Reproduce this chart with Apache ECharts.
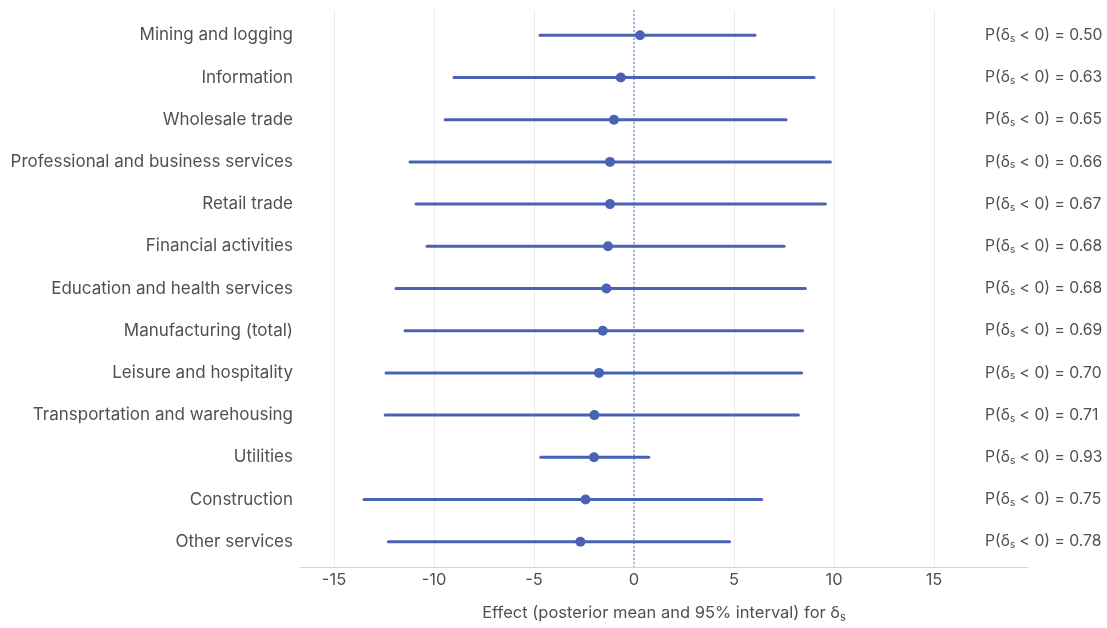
<!DOCTYPE html>
<html>
<head>
<meta charset="utf-8">
<script src="https://cdn.jsdelivr.net/npm/echarts@6/dist/echarts.min.js"></script>
<style>
  html, body { margin: 0; padding: 0; background: #fff; }
  #chart { width: 1107px; height: 628px; }
</style>
</head>
<body>
<div id="chart"></div>
<script>
// Sectors, top to bottom
const sectors = [
  'Mining and logging',
  'Information',
  'Wholesale trade',
  'Professional and business services',
  'Retail trade',
  'Financial activities',
  'Education and health services',
  'Manufacturing (total)',
  'Leisure and hospitality',
  'Transportation and warehousing',
  'Utilities',
  'Construction',
  'Other services'
];
// Posterior mean and 95% interval bounds
const means = [0.3, -0.66, -1.0, -1.2, -1.2, -1.3, -1.38, -1.56, -1.75, -1.98, -2.0, -2.42, -2.68];
const lower = [-4.7, -9.0, -9.45, -11.2, -10.9, -10.35, -11.9, -11.45, -12.4, -12.44, -4.66, -13.5, -12.28];
const upper = [6.05, 9.0, 7.6, 9.82, 9.57, 7.5, 8.57, 8.43, 8.38, 8.22, 0.74, 6.38, 4.78];
// Posterior probability of a negative effect
const probNeg = ['0.50', '0.63', '0.65', '0.66', '0.67', '0.68', '0.68', '0.69', '0.70', '0.71', '0.93', '0.75', '0.78'];
// X tick labels shown
const xTicks = [-15, -10, -5, 0, 5, 10, 15];

const FONT = 'Inter, "Noto Sans", sans-serif';
const BLUE = '#4a62b4';
const TEXT = '#505050';

const chart = echarts.init(document.getElementById('chart'), null, { renderer: 'canvas' });

const intervals = sectors.map((s, i) => [lower[i], upper[i], i]);
const points = sectors.map((s, i) => [means[i], i]);

const yBase = {
  type: 'value',
  inverse: true,
  min: -0.6,
  max: 12.6,
  minInterval: 1,
  maxInterval: 1,
  axisLine: { show: false },
  axisTick: { show: false },
  splitLine: { show: false }
};

function rowIndex(v) {
  const r = Math.round(v);
  return (Math.abs(v - r) < 1e-6 && r >= 0 && r < sectors.length) ? r : -1;
}

chart.setOption({
  animation: false,
  backgroundColor: '#ffffff',
  textStyle: { fontFamily: FONT },
  grid: { left: 300, right: 79, top: 10, bottom: 57 },
  xAxis: {
    type: 'value',
    min: -16.7,
    max: 19.7,
    splitNumber: 7,
    axisLine: { show: true, onZero: false, lineStyle: { color: '#d6d6d6', width: 1 } },
    axisTick: { show: false },
    axisLabel: {
      color: TEXT,
      fontSize: 16.5,
      fontFamily: FONT,
      margin: 5,
      showMinLabel: false,
      showMaxLabel: false,
      formatter: v => xTicks.includes(v) ? String(v) : ''
    },
    splitLine: {
      show: true,
      showMinLine: false,
      showMaxLine: false,
      lineStyle: { color: '#ebebee', width: 1 }
    },
    name: 'Effect (posterior mean and 95% interval) for δ{sub|s}',
    nameLocation: 'middle',
    nameGap: 37,
    nameTextStyle: {
      color: TEXT,
      fontSize: 16.5,
      fontFamily: FONT,
      rich: {
        sub: { fontSize: 11, fontFamily: FONT, color: TEXT, padding: [8, 0, 0, 0] }
      }
    }
  },
  yAxis: [
    Object.assign({}, yBase, {
      position: 'left',
      axisLabel: {
        color: TEXT,
        fontSize: 17,
        fontFamily: FONT,
        margin: 7,
        formatter: v => {
          const r = rowIndex(v);
          return r >= 0 ? sectors[r] : '';
        }
      }
    }),
    Object.assign({}, yBase, {
      position: 'right',
      axisLabel: {
        color: TEXT,
        fontSize: 15.7,
        fontFamily: FONT,
        align: 'left',
        margin: -43,
        formatter: v => {
          const r = rowIndex(v);
          return r >= 0 ? 'P(δ{sub|s} < 0) = ' + probNeg[r] : '';
        },
        rich: {
          sub: { fontSize: 10, fontFamily: FONT, color: TEXT, padding: [7, 0, 0, 0] }
        }
      }
    })
  ],
  series: [
    {
      type: 'custom',
      yAxisIndex: 0,
      data: intervals,
      encode: { x: [0, 1], y: 2 },
      renderItem: (params, api) => {
        const a = api.coord([api.value(0), api.value(2)]);
        const b = api.coord([api.value(1), api.value(2)]);
        return {
          type: 'line',
          shape: { x1: a[0], y1: a[1], x2: b[0], y2: b[1] },
          style: { stroke: BLUE, lineWidth: 3, lineCap: 'round' }
        };
      },
      z: 3,
      markLine: {
        silent: true,
        symbol: 'none',
        label: { show: false },
        lineStyle: { color: '#aab4e2', type: 'dotted', width: 2 },
        data: [{ xAxis: 0 }],
        z: 2
      }
    },
    {
      type: 'scatter',
      yAxisIndex: 0,
      data: points,
      symbol: 'circle',
      symbolSize: 10,
      itemStyle: { color: BLUE, opacity: 1 },
      z: 4
    }
  ]
});
</script>
</body>
</html>
